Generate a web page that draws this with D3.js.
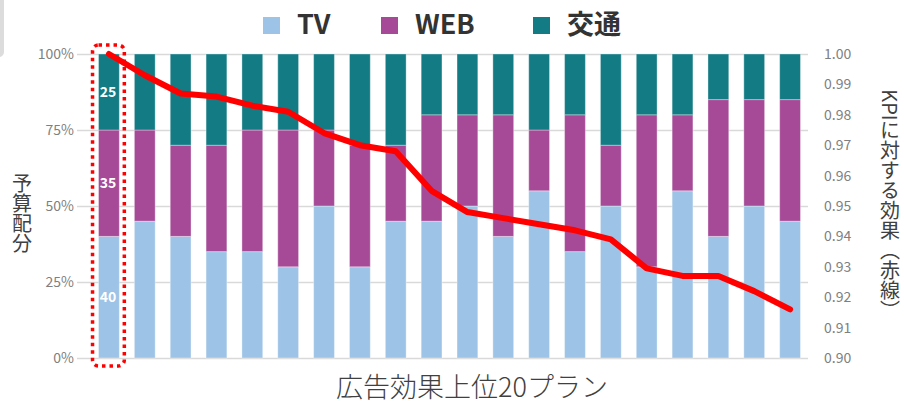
<!DOCTYPE html>
<html>
<head>
<meta charset="utf-8">
<script src="https://cdn.jsdelivr.net/npm/d3@7"></script>
<style>
  body { margin: 0; background: #fff; }
  svg { font-family: "Noto Sans CJK JP", "Noto Sans", sans-serif; }
</style>
</head>
<body>
<div id="chart"></div>
<script>
// data (percent per plan, stacked bottom to top)
var plans = d3.range(1, 21);
var tv    = [40, 45, 40, 35, 35, 30, 50, 30, 45, 45, 50, 40, 55, 35, 50, 30, 55, 40, 50, 45];
var web   = [35, 30, 30, 35, 40, 45, 25, 40, 25, 35, 30, 40, 20, 45, 20, 50, 25, 45, 35, 40];
var kotsu = [25, 25, 30, 30, 25, 25, 25, 30, 30, 20, 20, 20, 25, 20, 30, 20, 20, 15, 15, 15];
var kpi   = [1.000, 0.993, 0.987, 0.986, 0.983, 0.981, 0.974, 0.970, 0.968, 0.955,
             0.948, 0.946, 0.944, 0.942, 0.939, 0.9295, 0.927, 0.927, 0.922, 0.916];
var series = ["TV", "WEB", "交通"];
var colors = ["#9dc3e6", "#a64a97", "#127b84"];
var leftTicks = [0, 0.25, 0.5, 0.75, 1];
var rightTicks = d3.range(0, 11).map(i => 0.90 + i * 0.01);

var svgWidth = 904;
var svgHeight = 405;

var plot = { left: 91, right: 808, top: 54, bottom: 358 };

var svg = d3.select("#chart")
  .append("svg")
  .attr("width", svgWidth)
  .attr("height", svgHeight);

// small grey tab at the top-left corner of the screenshot
svg.append("rect")
  .attr("x", -6).attr("y", -6)
  .attr("width", 10).attr("height", 63)
  .attr("rx", 5)
  .attr("fill", "#dcdcdc");

// scales
var x = d3.scaleBand()
  .domain(plans)
  .range([plot.left, plot.right])
  .paddingInner(0.42)
  .paddingOuter(0.21);

var yLeft = d3.scaleLinear().domain([0, 1]).range([plot.bottom, plot.top]);
var yRight = d3.scaleLinear().domain([0.90, 1.00]).range([plot.bottom, plot.top]);

// gridlines
svg.append("g")
  .attr("transform", `translate(${plot.right}, 0)`)
  .call(d3.axisLeft(yLeft).tickValues(leftTicks).tickSize(plot.right - 77).tickFormat(""))
  .call(g => g.select(".domain").remove())
  .call(g => g.selectAll("line").attr("stroke", "#d9d9d9").attr("stroke-width", 1.5));

// stacked bars
var rows = plans.map((p, i) => ({ plan: p, TV: tv[i] / 100, WEB: web[i] / 100, "交通": kotsu[i] / 100 }));
var stacked = d3.stack().keys(series)(rows);

svg.append("g")
  .selectAll("g")
  .data(stacked)
  .join("g")
  .attr("fill", (d, i) => colors[i])
  .selectAll("rect")
  .data(d => d)
  .join("rect")
  .attr("x", d => x(d.data.plan))
  .attr("y", d => yLeft(d[1]))
  .attr("width", x.bandwidth())
  .attr("height", d => yLeft(d[0]) - yLeft(d[1]))
  .attr("stroke", "#fff")
  .attr("stroke-opacity", 0.35)
  .attr("stroke-width", 1);

// value labels on the first plan
var first = stacked.map(s => s[0]);
svg.append("g")
  .selectAll("text")
  .data(first)
  .join("text")
  .attr("x", d => x(d.data.plan) + x.bandwidth() / 2 - 1)
  .attr("y", d => (yLeft(d[0]) + yLeft(d[1])) / 2)
  .attr("dy", "0.35em")
  .attr("text-anchor", "middle")
  .attr("fill", "#fff")
  .attr("font-weight", "bold")
  .attr("font-size", "14px")
  .text(d => Math.round((d[1] - d[0]) * 100));

// KPI line
var line = d3.line()
  .x((d, i) => x(plans[i]) + x.bandwidth() / 2)
  .y(d => yRight(d));

svg.append("path")
  .datum(kpi)
  .attr("d", line)
  .attr("fill", "none")
  .attr("stroke", "#ff0000")
  .attr("stroke-width", 6)
  .attr("stroke-linejoin", "round")
  .attr("stroke-linecap", "round");

// dotted box round the first plan
svg.append("rect")
  .attr("x", x(plans[0]) - 6)
  .attr("y", plot.top - 9)
  .attr("width", x.bandwidth() + 11)
  .attr("height", plot.bottom - plot.top + 17)
  .attr("rx", 6)
  .attr("fill", "none")
  .attr("stroke", "#ff0000")
  .attr("stroke-width", 3.5)
  .attr("stroke-dasharray", "3.5,4");

// axes
svg.append("g")
  .attr("transform", "translate(77, 0)")
  .call(d3.axisLeft(yLeft).tickValues(leftTicks).tickSize(0).tickPadding(3).tickFormat(d3.format(".0%")))
  .call(g => g.select(".domain").remove())
  .call(g => g.selectAll("text").attr("fill", "#7f7f7f").attr("font-size", "14px")
    .style("font-family", "'Noto Sans CJK JP', sans-serif"));

svg.append("g")
  .attr("transform", `translate(${plot.right}, 0)`)
  .call(d3.axisRight(yRight).tickValues(rightTicks).tickSize(0).tickPadding(16).tickFormat(d3.format(".2f")))
  .call(g => g.select(".domain").remove())
  .call(g => g.selectAll("text").attr("fill", "#7f7f7f").attr("font-size", "14px")
    .style("font-family", "'Noto Sans CJK JP', sans-serif"));

// axis titles
svg.append("text")
  .attr("x", 22)
  .attr("y", 213)
  .attr("text-anchor", "middle")
  .style("writing-mode", "vertical-rl")
  .attr("font-size", "20px")
  .attr("fill", "#404040")
  .text("予算配分");

svg.append("text")
  .attr("x", 890)
  .attr("y", 205)
  .attr("text-anchor", "middle")
  .style("writing-mode", "vertical-rl")
  .attr("font-size", "20px")
  .attr("fill", "#404040")
  .text("KPIに対する効果（赤線）");

svg.append("text")
  .attr("x", 472)
  .attr("y", 397)
  .attr("text-anchor", "middle")
  .attr("font-size", "27px")
  .attr("font-weight", 300)
  .attr("fill", "#404040")
  .text("広告効果上位20プラン");

// legend
var legendX = [263, 381, 533];
var legend = svg.append("g")
  .selectAll("g")
  .data(series)
  .join("g")
  .attr("transform", (d, i) => `translate(${legendX[i]}, 0)`);

legend.append("rect")
  .attr("x", 0).attr("y", 17)
  .attr("width", 17).attr("height", 17)
  .attr("fill", (d, i) => colors[i]);

legend.append("text")
  .attr("x", 34)
  .attr("y", 34)
  .attr("font-size", "27px")
  .attr("font-weight", "bold")
  .attr("fill", "#333")
  .text(d => d);
</script>
</body>
</html>
